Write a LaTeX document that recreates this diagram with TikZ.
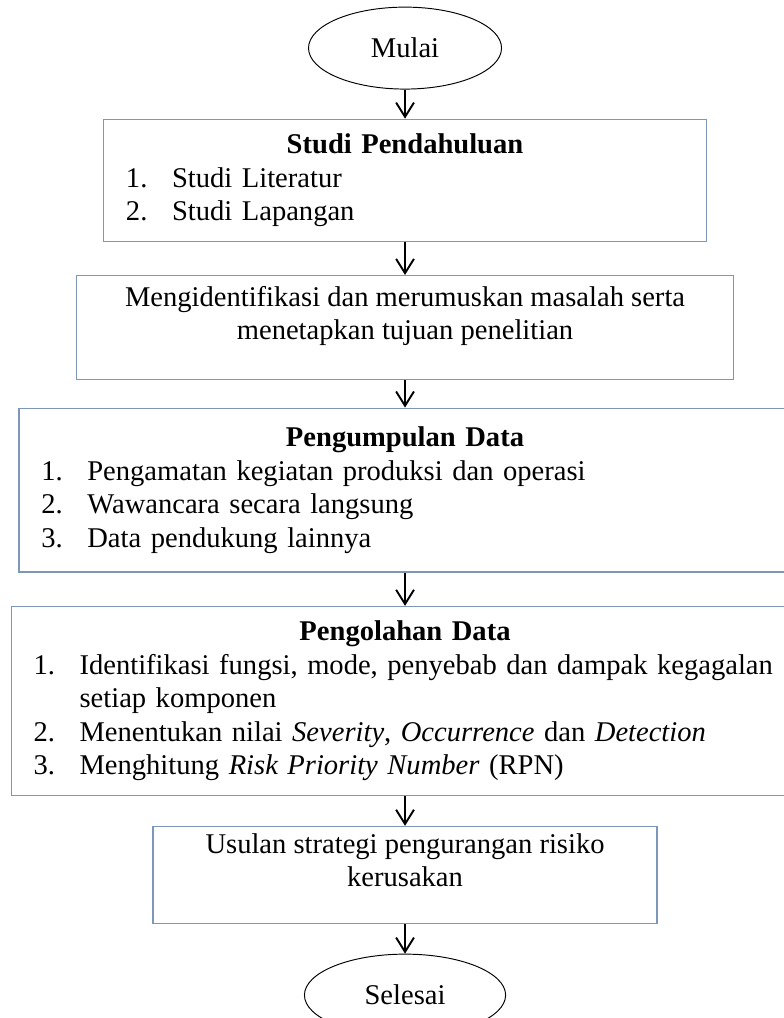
\documentclass[tikz,border=0pt]{standalone}
\usepackage{fontspec}
\setmainfont{Liberation Serif}
\usetikzlibrary{arrows.meta,positioning,shapes.geometric}
\definecolor{boxline}{RGB}{125,150,185}
\newcommand{\numitem}[2]{\makebox[0.68cm][l]{#1}\mbox{#2}}
\newcommand{\boxtitle}[1]{\makebox[\linewidth][c]{\textbf{#1}}}
\newcommand{\lifttext}[1]{\raisebox{4.8pt}[\height][\depth]{\begin{tabular}{@{}c@{}}#1\end{tabular}}}

\begin{document}
\begin{tikzpicture}[>={Straight Barb[length=6pt,width=7.5pt]}, every node/.style={font=\fontsize{12}{14.1}\selectfont},
  term/.style={draw, ellipse, line width=0.4pt, inner sep=0pt, minimum height=1.21cm},
  stepbox/.style={draw=boxline, line width=0.5pt, inner sep=0pt, align=center},
  listbox/.style={stepbox, align=left, inner xsep=0.33cm},
  arr/.style={->, line width=0.8pt}]
\useasboundingbox (0,0) rectangle (11.57,-15.03);
\node[term, minimum width=2.85cm] (mulai) at (5.98,-0.71) {Mulai};
\node[listbox, below=0.43cm of mulai, minimum width=8.90cm, minimum height=1.80cm, text width=8.24cm] (studi)
  {\boxtitle{Studi Pendahuluan}\\ \numitem{1.}{Studi Literatur}\\ \numitem{2.}{Studi Lapangan}};
\node[stepbox, below=0.49cm of studi, minimum width=9.70cm, minimum height=1.54cm] (rumusan)
  {\lifttext{Mengidentifikasi dan merumuskan masalah serta\\ menetapkan tujuan penelitian}};
\node[listbox, below=0.40cm of rumusan, minimum width=11.40cm, minimum height=2.42cm, text width=10.74cm] (kumpul)
  {\boxtitle{Pengumpulan Data}\\ \numitem{1.}{Pengamatan kegiatan produksi dan operasi}\\
   \numitem{2.}{Wawancara secara langsung}\\ \numitem{3.}{Data pendukung lainnya}};
\node[listbox, below=0.49cm of kumpul, minimum width=11.63cm, minimum height=2.79cm, text width=10.97cm] (olah)
  {\boxtitle{Pengolahan Data}\\ \numitem{1.}{Identifikasi fungsi, mode, penyebab dan dampak kegagalan}\\
   \numitem{}{setiap komponen}\\
   \numitem{2.}{Menentukan nilai \textit{Severity}, \textit{Occurrence} dan \textit{Detection}}\\
   \numitem{3.}{Menghitung \textit{Risk Priority Number} (RPN)}};
\node[stepbox, below=0.44cm of olah, minimum width=7.44cm, minimum height=1.43cm] (usulan)
  {\lifttext{Usulan strategi pengurangan risiko\\ kerusakan}};
\node[term, below=0.44cm of usulan, minimum width=2.97cm] (selesai) {Selesai};
\foreach \a/\b in {mulai/studi,studi/rumusan,rumusan/kumpul,kumpul/olah,olah/usulan,usulan/selesai}{\draw[arr] (\a) -- (\b);}
\end{tikzpicture}
\end{document}
